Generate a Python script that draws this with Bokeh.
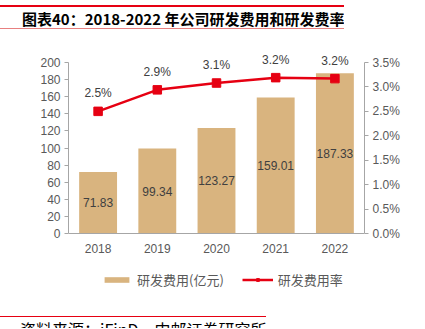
from bokeh.plotting import figure
from bokeh.models import (ColumnDataSource, FactorRange, Range1d, LinearAxis,
                          NumeralTickFormatter, FixedTicker, Legend, LegendItem, LabelSet,
                          Div, Span)
from bokeh.layouts import column
from bokeh.core.properties import value
from bokeh.embed import file_html
from bokeh.resources import INLINE

years = ["2018", "2019", "2020", "2021", "2022"]
rd_cost = [71.83, 99.34, 123.27, 159.01, 187.33]
rd_rate = [0.0250, 0.0294, 0.0308, 0.0319, 0.0317]
left_ticks = [0, 20, 40, 60, 80, 100, 120, 140, 160, 180, 200]
right_ticks = [0.0, 0.005, 0.01, 0.015, 0.02, 0.025, 0.03, 0.035]
left_max, right_max = 200, 0.035

title_text = "图表40：2018-2022 年公司研发费用和研发费率"
source_text = "资料来源：iFinD，中邮证券研究所"

W = 425
CJK = "Noto Sans CJK SC"
NUM = "Liberation Sans"
TICK_COLOR = "#595959"
AXIS_COLOR = "#a6a6a6"
BAR_COLOR = "#D9B47F"
RED = "#E60012"

# layout in px (main figure local coordinates)
FIG_H = 276
FR_TOP, FR_BOT = 7, 262          # frame edges
AX_TOP, AX_ZERO = 24, 195        # where axis max and 0 sit
px_span = AX_ZERO - AX_TOP
l_lo = -(FR_BOT - AX_ZERO) * left_max / px_span
l_hi = left_max + (AX_TOP - FR_TOP) * left_max / px_span
r_lo = -(FR_BOT - AX_ZERO) * right_max / px_span
r_hi = right_max + (AX_TOP - FR_TOP) * right_max / px_span

# ---------- header ----------
hdr = Div(width=W, height=38, margin=0, text=(
    '<div style="padding-top:5px;"><div style="border-top:2px solid #E60012;'
    'border-bottom:1px solid #E88080;height:24px;line-height:24px;padding-left:22px;'
    'font-family:\'Noto Sans CJK SC\';font-weight:bold;font-size:15px;color:#000;'
    'white-space:nowrap;overflow:hidden;">' + title_text + '</div></div>'))

# ---------- main chart ----------
src = ColumnDataSource(dict(
    year=years, cost=rd_cost, mid=[c / 2 for c in rd_cost],
    cost_lbl=[f"{c:.2f}" for c in rd_cost],
    rate=rd_rate, rate_lbl=[f"{r * 100:.1f}%" for r in rd_rate],
    zero=[0] * len(years),
))

p = figure(x_range=FactorRange(*years), y_range=Range1d(l_lo, l_hi),
           width=W, height=FIG_H, output_backend="svg", toolbar_location=None,
           min_border_left=68, min_border_right=61, min_border_top=FR_TOP,
           min_border_bottom=FIG_H - FR_BOT, outline_line_color=None, margin=0)
p.x_range.range_padding = 0
p.extra_y_ranges = {"pct": Range1d(r_lo, r_hi)}
p.grid.visible = False
p.xaxis.visible = False

bars = p.vbar(x="year", top="cost", width=0.64, source=src, fill_color=BAR_COLOR,
              line_color=None)
ln = p.line(x="year", y="rate", y_range_name="pct", source=src, line_color=RED, line_width=2.5)
sc = p.scatter(x="year", y="rate", y_range_name="pct", source=src, marker="square",
               size=8.5, fill_color=RED, line_color=RED)

p.add_layout(Span(location=0, dimension="width", line_color=AXIS_COLOR, line_width=1))

p.add_layout(LabelSet(x="year", y="mid", text="cost_lbl", source=src,
                      text_align="center", text_baseline="middle",
                      text_font=value(NUM), text_font_size="12px", text_color="#404040"))
p.add_layout(LabelSet(x="year", y="rate", y_range_name="pct", text="rate_lbl", source=src,
                      y_offset=11, text_align="center", text_baseline="bottom",
                      text_font=value(NUM), text_font_size="12px", text_color="#404040"))
p.add_layout(LabelSet(x="year", y="zero", text="year", source=src,
                      y_offset=-15, text_align="center", text_baseline="middle",
                      text_font=value(NUM), text_font_size="12px", text_color=TICK_COLOR))

ya = p.yaxis[0]
ya.ticker = FixedTicker(ticks=left_ticks)
ya.bounds = (0, left_max)
ra = LinearAxis(y_range_name="pct", ticker=FixedTicker(ticks=right_ticks),
                formatter=NumeralTickFormatter(format="0.0%"), bounds=(0, right_max))
p.add_layout(ra, "right")

for ax in [ya, ra]:
    ax.axis_line_color = AXIS_COLOR
    ax.major_tick_line_color = AXIS_COLOR
    ax.major_tick_out = 4
    ax.major_tick_in = 0
    ax.minor_tick_line_color = None
    ax.major_label_text_font = NUM
    ax.major_label_text_font_size = "12px"
    ax.major_label_text_color = TICK_COLOR
    ax.major_label_standoff = 4

legend = Legend(items=[LegendItem(label="研发费用(亿元)", renderers=[bars]),
                       LegendItem(label="研发费用率", renderers=[ln, sc])],
                orientation="horizontal", location=(33, FR_BOT - 251),
                border_line_color=None, background_fill_alpha=0,
                label_text_font=CJK, label_text_font_size="13px",
                label_text_color=TICK_COLOR, glyph_width=31, glyph_height=7,
                label_standoff=5, spacing=18, margin=0, padding=2)
p.add_layout(legend)

# ---------- footer ----------
ftr = Div(width=W, height=15, margin=0, text=(
    '<div style="padding-top:2px;"><div style="border-top:1px solid #E60012;height:12px;'
    'overflow:hidden;padding-left:20px;padding-top:3px;font-family:\'Noto Sans CJK SC\';'
    'font-size:16px;line-height:18px;color:#000;white-space:nowrap;">'
    + source_text + '</div></div>'))

layout = column(hdr, p, ftr, spacing=0, margin=0)
open("out.html", "w").write(file_html(layout, INLINE))
